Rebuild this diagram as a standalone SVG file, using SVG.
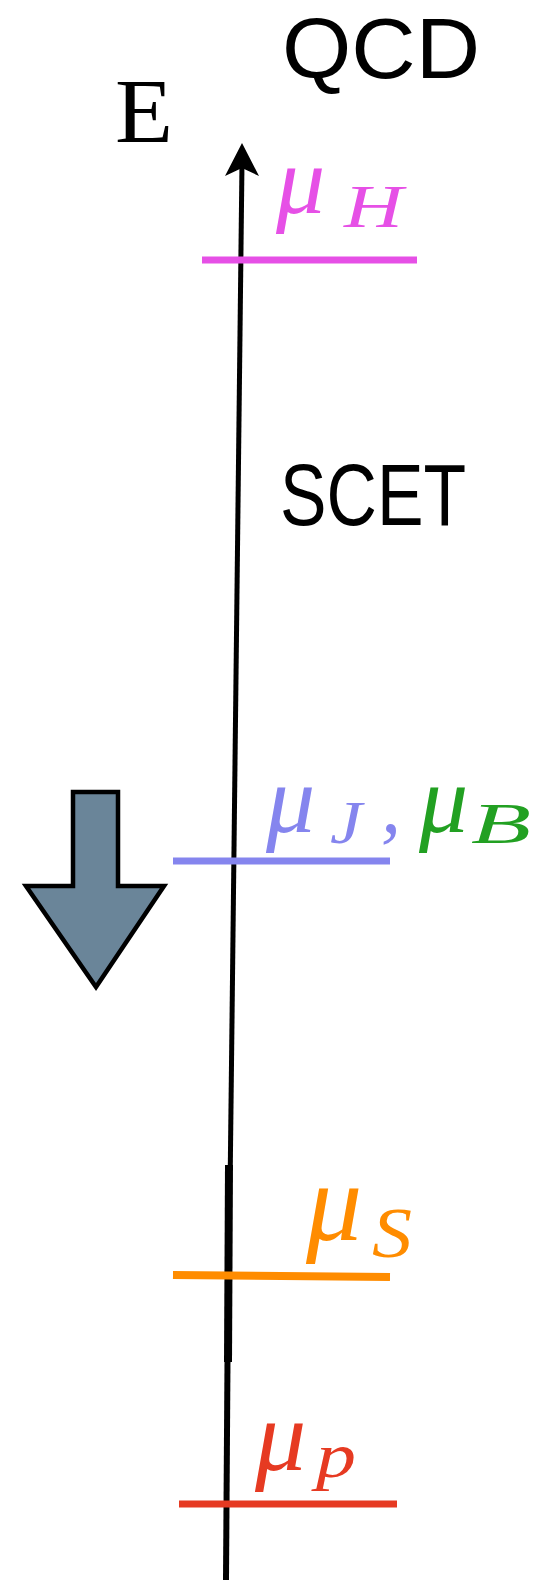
<svg xmlns="http://www.w3.org/2000/svg" width="542" height="1580" viewBox="0 0 542 1580">
<style>
.sans{font-family:"Liberation Sans",Arial,sans-serif;fill:#000}
.math{font-family:"Liberation Serif","DejaVu Serif",serif;font-style:italic}
.axis{stroke:#000;fill:none}
.lvl{stroke-width:7;fill:none}
</style>
<rect width="542" height="1580" fill="#fff"/>
<g id="connectors">
<path class="axis" stroke-width="5" d="M242,162 L230.3,1167"/>
<path class="axis" stroke-width="8" d="M229,1165 L228,1362"/>
<path class="axis" stroke-width="6" d="M227.5,1360 L226,1580"/>
<path d="M242,143 L259,176 L242,168 L225,176 Z" fill="#000"/>
</g>
<g id="label-E"><text x="115" y="142" font-family="Liberation Serif,serif" font-size="92" fill="#000" textLength="58" lengthAdjust="spacingAndGlyphs">E</text></g>
<g id="label-QCD"><text class="sans" x="282" y="78" font-size="86" textLength="198" lengthAdjust="spacingAndGlyphs">QCD</text></g>
<g id="label-SCET"><text class="sans" x="280" y="525" font-size="87" textLength="186" lengthAdjust="spacingAndGlyphs">SCET</text></g>
<g id="level-H">
<line class="lvl" x1="202" y1="260" x2="417" y2="260" stroke="#e650e6"/>
<text class="math" fill="#e650e6"><tspan x="276" y="213" font-size="98">μ</tspan><tspan x="344" y="227" font-size="62" textLength="59" lengthAdjust="spacingAndGlyphs">H</tspan></text>
</g>
<g id="level-JB">
<line class="lvl" x1="173" y1="861" x2="390" y2="861" stroke="#8585ee"/>
<text class="math" fill="#8585ee"><tspan x="266" y="832" font-size="98">μ</tspan><tspan x="330" y="843" font-size="62" textLength="32" lengthAdjust="spacingAndGlyphs">J</tspan><tspan x="381" y="832" font-size="80">,</tspan></text>
<text class="math" fill="#22a022"><tspan x="419" y="832" font-size="98">μ</tspan><tspan x="471" y="843" font-size="58" textLength="60" lengthAdjust="spacingAndGlyphs">B</tspan></text>
</g>
<g id="level-S">
<line x1="173" y1="1275" x2="390" y2="1277" stroke="#ff8c00" stroke-width="8"/>
<text class="math" fill="#ff8c00"><tspan x="306" y="1240" font-size="112">μ</tspan><tspan x="372" y="1257" font-size="72" textLength="40" lengthAdjust="spacingAndGlyphs">S</tspan></text>
</g>
<g id="level-p">
<line class="lvl" x1="179" y1="1504" x2="397" y2="1504" stroke="#e63a22" stroke-width="6"/>
<text class="math" fill="#e63a22"><tspan x="255" y="1470" font-size="102">μ</tspan><tspan x="316" y="1477" font-size="64" textLength="40" lengthAdjust="spacingAndGlyphs">p</tspan></text>
</g>
<g id="down-arrow">
<path d="M73,792 L118,792 L118,886 L164,886 L96,987 L26,886 L73,886 Z" fill="#6a8599" stroke="#000" stroke-width="4.5" stroke-linejoin="miter"/>
</g>
</svg>
